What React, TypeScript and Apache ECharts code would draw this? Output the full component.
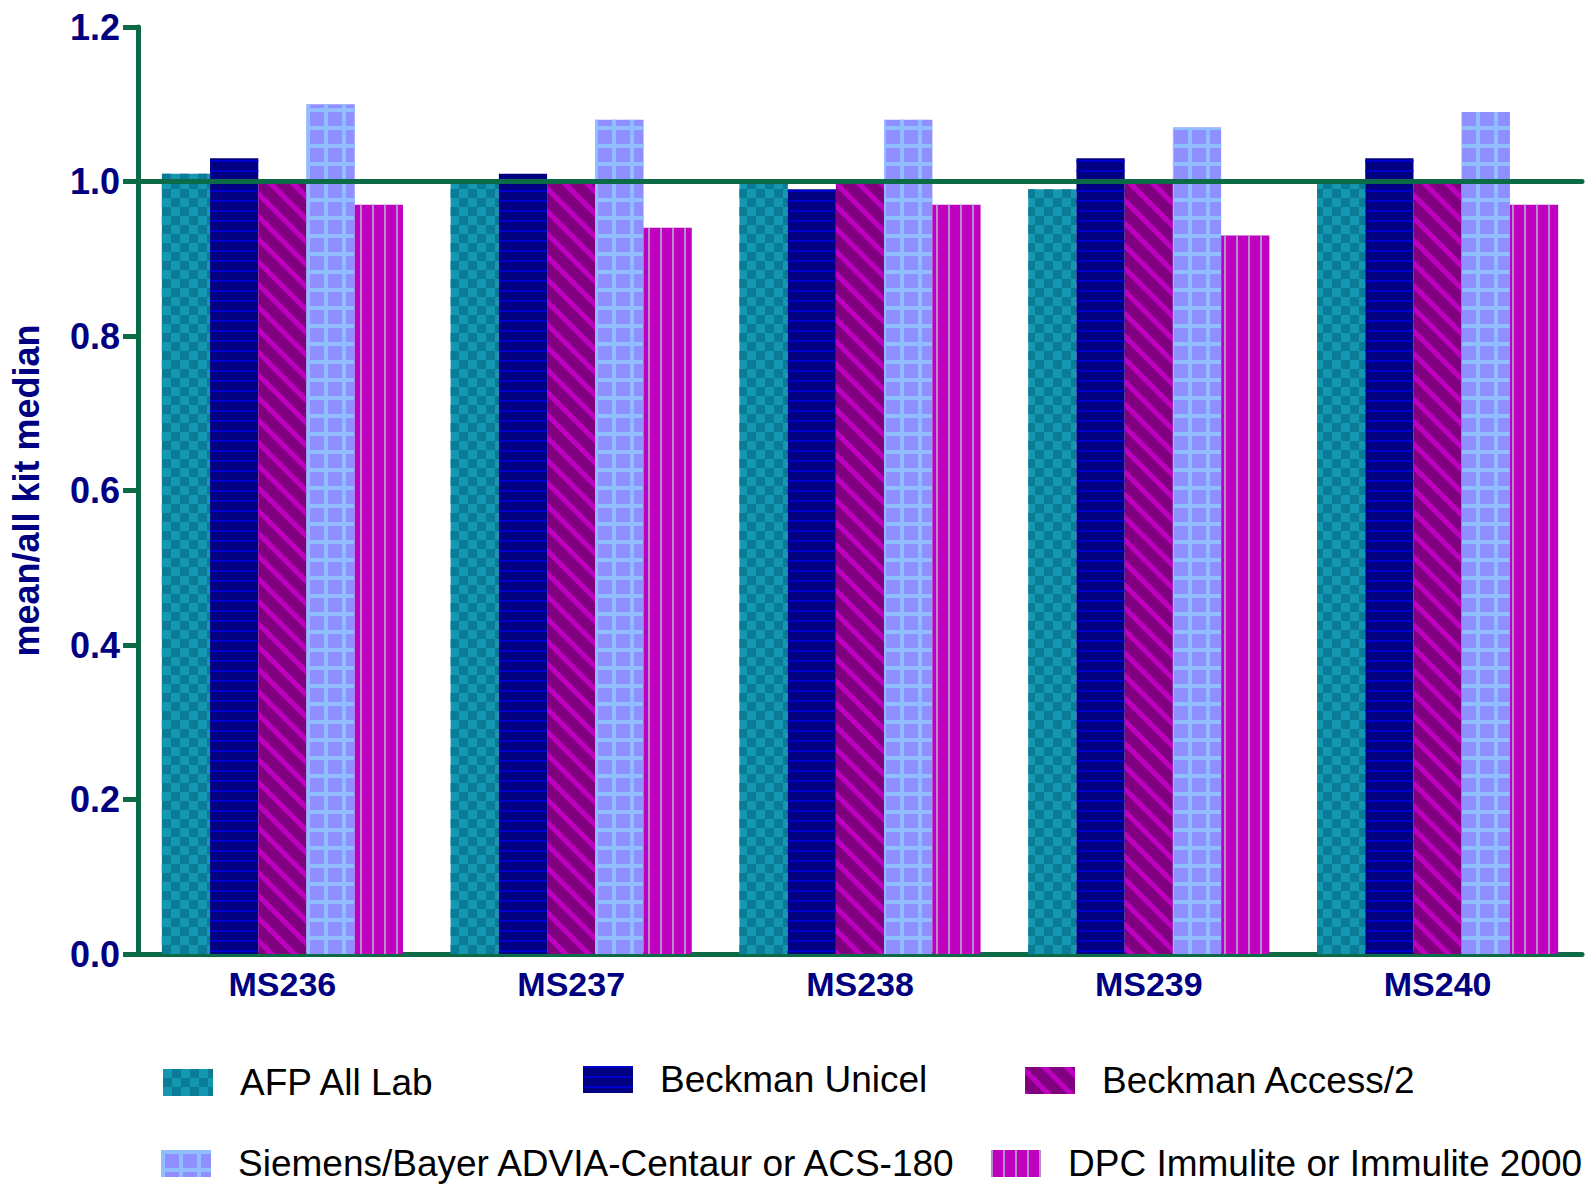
import React, { useEffect, useRef } from "react";
import * as echarts from "echarts";

const categories = ["MS236", "MS237", "MS238", "MS239", "MS240"];
const seriesNames = [
  "AFP All Lab",
  "Beckman Unicel",
  "Beckman Access/2",
  "Siemens/Bayer ADVIA-Centaur or ACS-180",
  "DPC Immulite or Immulite 2000",
];
const afpAllLab = [1.01, 1.0, 1.0, 0.99, 1.0];
const beckmanUnicel = [1.03, 1.01, 0.99, 1.03, 1.03];
const beckmanAccess = [1.0, 1.0, 1.0, 1.0, 1.0];
const siemensBayer = [1.1, 1.08, 1.08, 1.07, 1.09];
const dpcImmulite = [0.97, 0.94, 0.97, 0.93, 0.97];
const yMin = 0;
const yMax = 1.2;
const yInterval = 0.2;
const referenceValue = 1.0;
const yAxisTitle = "mean/all kit median";

const GREEN = "#0B6B47";
const NAVY = "#000080";
const FONT = "Arial, 'Liberation Sans', sans-serif";

const styles = [
  {
    color: "#1498B2",
    decal: {
      symbol: "rect",
      symbolSize: 1,
      color: "#0B7C96",
      dashArrayX: [[9, 9], [0, 9, 9, 0]],
      dashArrayY: [9, 0],
    },
  },
  {
    color: "#000080",
    decal: {
      symbol: "rect",
      symbolSize: 1,
      color: "#0000CC",
      dashArrayX: [10, 0],
      dashArrayY: [2, 8],
    },
  },
  {
    color: "#800080",
    decal: {
      symbol: "rect",
      symbolSize: 1,
      color: "#C000C0",
      dashArrayX: [16, 0],
      dashArrayY: [5, 11],
      rotation: Math.PI / 4,
    },
  },
  {
    color: "#8F8FFF",
    decal: {
      symbol: "rect",
      symbolSize: 1,
      color: "#90BEFF",
      dashArrayX: [[18, 0], [4, 14]],
      dashArrayY: [4, 0, 14, 0],
    },
  },
  {
    color: "#C000C0",
    decal: {
      symbol: "rect",
      symbolSize: 1,
      color: "#B48CC8",
      dashArrayX: [2, 10],
      dashArrayY: [10, 0],
    },
  },
];

const seriesData = [afpAllLab, beckmanUnicel, beckmanAccess, siemensBayer, dpcImmulite];

const legendPositions = [
  { left: 163, top: 1064 },
  { left: 583, top: 1061 },
  { left: 1025, top: 1062 },
  { left: 161, top: 1145 },
  { left: 991, top: 1145 },
];

export default function App() {
  const ref = useRef<HTMLDivElement>(null);
  useEffect(() => {
    if (!ref.current) return;
    const chart = echarts.init(ref.current, null, { renderer: "svg" });
    const option: any = {
      animation: false,
      backgroundColor: "#ffffff",
      grid: { left: 138, right: 14, top: 27, bottom: 239 },
      legend: seriesNames.map((name, i) => ({
        data: [name],
        left: legendPositions[i].left,
        top: legendPositions[i].top,
        padding: 0,
        icon: "rect",
        itemWidth: 50,
        itemHeight: 27,
        selectedMode: false,
        textStyle: {
          color: "#000000",
          fontSize: 37,
          fontFamily: FONT,
          padding: [0, 0, 0, 22],
        },
      })),
      xAxis: {
        type: "category",
        data: categories,
        axisLine: { lineStyle: { color: GREEN, width: 5, cap: "round" } },
        axisTick: {
          alignWithLabel: true,
          length: 15,
          lineStyle: { color: GREEN, width: 5 },
        },
        axisLabel: {
          color: NAVY,
          fontWeight: "bold",
          fontSize: 34,
          fontFamily: FONT,
          margin: 13,
        },
      },
      yAxis: {
        type: "value",
        min: yMin,
        max: yMax,
        interval: yInterval,
        name: yAxisTitle,
        nameLocation: "middle",
        nameRotate: 90,
        nameGap: 94,
        nameTextStyle: {
          color: NAVY,
          fontWeight: "bold",
          fontSize: 36,
          fontFamily: FONT,
        },
        axisLine: { show: true, lineStyle: { color: GREEN, width: 5 } },
        axisTick: { show: true, length: 15, lineStyle: { color: GREEN, width: 5 } },
        splitLine: { show: false },
        axisLabel: {
          color: NAVY,
          fontWeight: "bold",
          fontSize: 36,
          fontFamily: FONT,
          margin: 18,
          formatter: (v: number) => v.toFixed(1),
        },
      },
      series: [
        {
          type: "line",
          name: "ref",
          data: [],
          z: 1,
          silent: true,
          markLine: {
            silent: true,
            symbol: "none",
            label: { show: false },
            lineStyle: { color: GREEN, width: 5, type: "solid", cap: "round" },
            data: [{ yAxis: referenceValue }],
          },
        },
        ...seriesNames.map((name, i) => ({
          type: "bar",
          name,
          data: seriesData[i],
          z: 3,
          barGap: "0%",
          barCategoryGap: "16.5%",
          itemStyle: { color: styles[i].color, decal: styles[i].decal },
        })),
      ],
    };
    chart.setOption(option);
    return () => chart.dispose();
  }, []);
  return (
    <div
      ref={ref}
      style={{ position: "fixed", left: 0, top: 0, width: 1596, height: 1193 }}
    />
  );
}
